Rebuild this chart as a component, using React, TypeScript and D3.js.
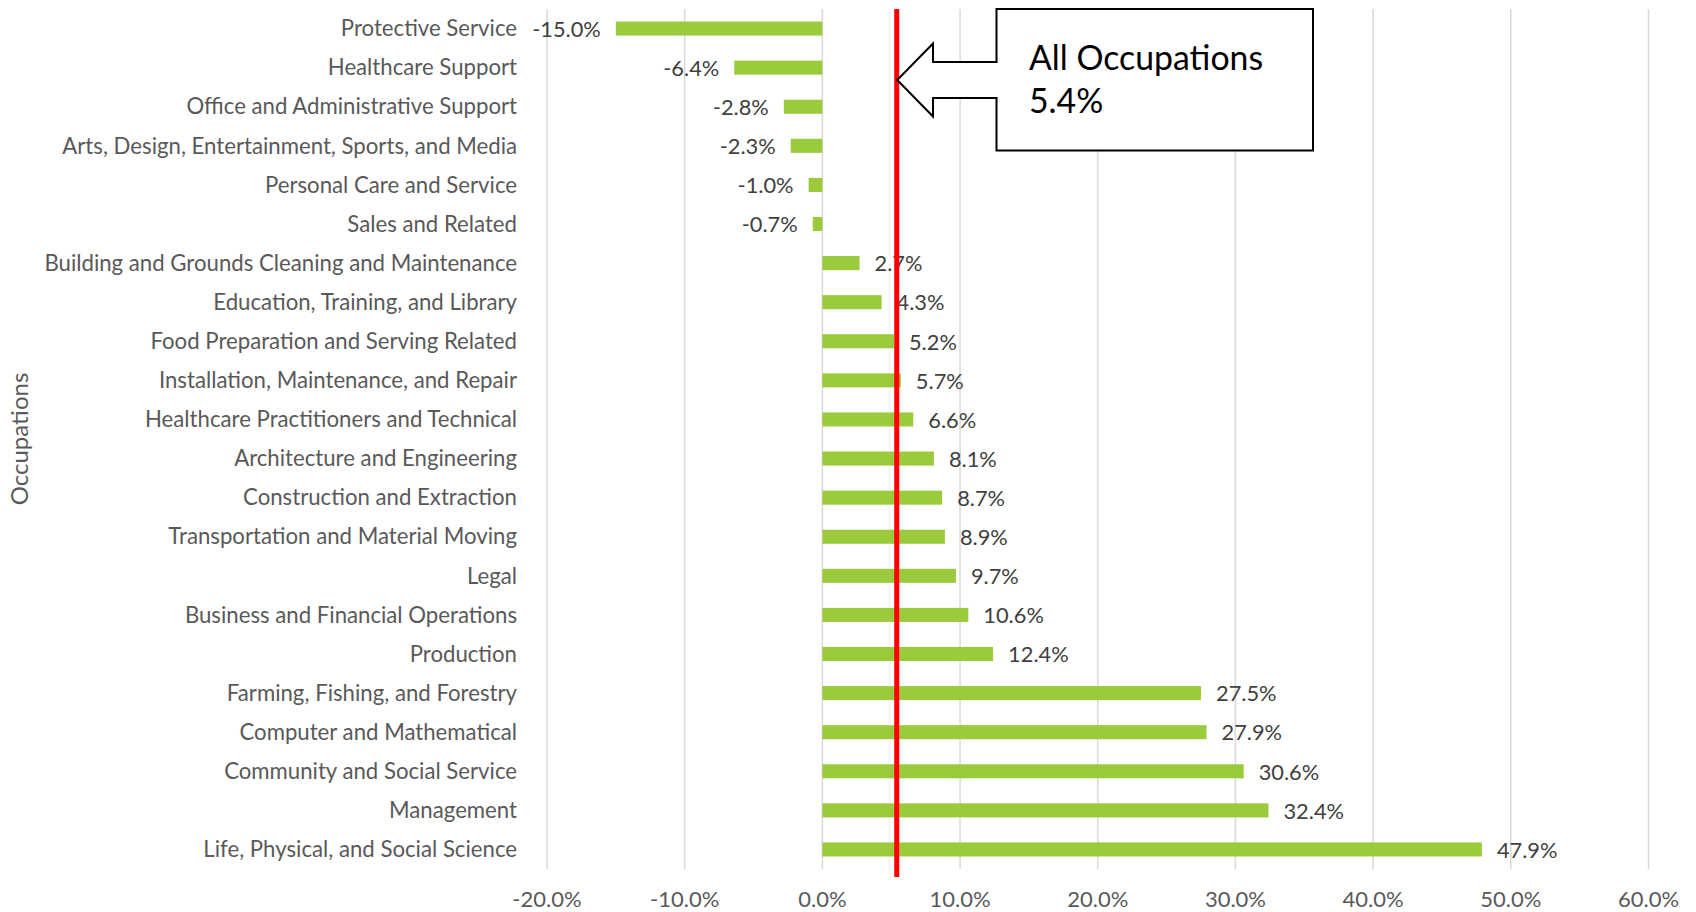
import React from "react";
import * as d3 from "d3";

const categories = [
  "Protective Service",
  "Healthcare Support",
  "Office and Administrative Support",
  "Arts, Design, Entertainment, Sports, and Media",
  "Personal Care and Service",
  "Sales and Related",
  "Building and Grounds Cleaning and Maintenance",
  "Education, Training, and Library",
  "Food Preparation and Serving Related",
  "Installation, Maintenance, and Repair",
  "Healthcare Practitioners and Technical",
  "Architecture and Engineering",
  "Construction and Extraction",
  "Transportation and Material Moving",
  "Legal",
  "Business and Financial Operations",
  "Production",
  "Farming, Fishing, and Forestry",
  "Computer and Mathematical",
  "Community and Social Service",
  "Management",
  "Life, Physical, and Social Science",
];

const values = [
  -15.0, -6.4, -2.8, -2.3, -1.0, -0.7, 2.7, 4.3, 5.2, 5.7, 6.6, 8.1, 8.7, 8.9,
  9.7, 10.6, 12.4, 27.5, 27.9, 30.6, 32.4, 47.9,
];

const xTicks = [-20, -10, 0, 10, 20, 30, 40, 50, 60];
const allOccupations = 5.4;
const calloutLines = ["All Occupations", "5.4%"];
const yAxisTitle = "Occupations";

const W = 1696;
const H = 912;
const FONT = "Lato, 'Open Sans', sans-serif";
const TEXT = "#595959";
const GREEN = "#9BCB3C";

export default function App() {
  const x = d3.scaleLinear().domain([-20, 60]).range([547, 1648.5]);
  const y = d3
    .scaleBand<string>()
    .domain(categories)
    .range([9, 869])
    .paddingInner(0.64)
    .paddingOuter(0.32);
  const top = 9;
  const bottom = 869;
  const fmt = (v: number) => `${v.toFixed(1)}%`;
  const xr = x(allOccupations);

  // callout geometry
  const bx0 = 996.5,
    bx1 = 1313,
    by0 = 9,
    by1 = 150.5;
  const tipY = 80;
  const headX = 933;
  const headTop = 43.5,
    headBot = 116.5,
    shaftTop = 62,
    shaftBot = 98;
  const calloutPath = [
    [bx0, by0],
    [bx1, by0],
    [bx1, by1],
    [bx0, by1],
    [bx0, shaftBot],
    [headX, shaftBot],
    [headX, headBot],
    [xr + 0.5, tipY],
    [headX, headTop],
    [headX, shaftTop],
    [bx0, shaftTop],
  ];
  const calloutD = d3.line()(calloutPath as [number, number][]) + "Z";

  return (
    <svg
      width={W}
      height={H}
      style={{ position: "absolute", left: 0, top: 0, background: "#fff" }}
      fontFamily={FONT}
    >
      <rect width={W} height={H} fill="#fff" />
      {xTicks.map((t) => (
        <line
          key={t}
          x1={x(t)}
          x2={x(t)}
          y1={top}
          y2={bottom}
          stroke="#d9d9d9"
          strokeWidth={1.5}
        />
      ))}
      {xTicks.map((t) => (
        <text
          key={"t" + t}
          x={x(t)}
          y={907}
          textAnchor="middle"
          fontSize={22}
          fill={TEXT}
        >
          {fmt(t)}
        </text>
      ))}
      {categories.map((c, i) => {
        const v = values[i];
        const yy = y(c)!;
        const bw = y.bandwidth();
        const x0 = x(Math.min(0, v));
        const x1 = x(Math.max(0, v));
        return (
          <g key={c}>
            <rect x={x0} y={yy} width={x1 - x0} height={bw} fill={GREEN} />
            <text
              x={517}
              y={yy + bw / 2}
              dy="0.35em"
              textAnchor="end"
              fontSize={22.2}
              fill={TEXT}
            >
              {c}
            </text>
            <text
              x={v < 0 ? x0 - 15 : x1 + 15}
              y={yy + bw / 2}
              dy="0.38em"
              textAnchor={v < 0 ? "end" : "start"}
              fontSize={21.8}
              fill="#404040"
            >
              {fmt(v)}
            </text>
          </g>
        );
      })}
      <line
        x1={xr}
        x2={xr}
        y1={top}
        y2={877}
        stroke="#ff0000"
        strokeWidth={5}
      />
      <path d={calloutD} fill="#fff" stroke="#000" strokeWidth={2} />
      <text x={1029} y={70} fontSize={33.8} fill="#000">
        {calloutLines[0]}
      </text>
      <text x={1029} y={113} fontSize={33.8} fill="#000">
        {calloutLines[1]}
      </text>
      <text
        transform={`translate(28,439) rotate(-90)`}
        textAnchor="middle"
        fontSize={24}
        fill={TEXT}
      >
        {yAxisTitle}
      </text>
    </svg>
  );
}
